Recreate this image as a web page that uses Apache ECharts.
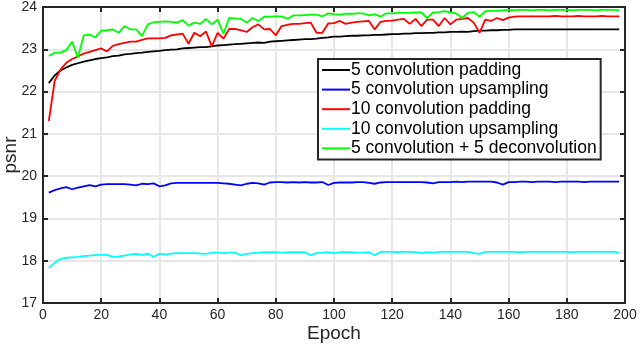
<!DOCTYPE html>
<html>
<head>
<meta charset="utf-8">
<script src="https://cdn.jsdelivr.net/npm/echarts@6/dist/echarts.min.js"></script>
<style>
  html, body { margin: 0; padding: 0; background: #fff; }
  #chart { width: 640px; height: 349px; }
</style>
</head>
<body>
<div id="chart"></div>
<script>
const epochs = [2, 4, 6, 8, 10, 12, 14, 16, 18, 20, 22, 24, 26, 28, 30, 32, 34, 36, 38, 40,
  42, 44, 46, 48, 50, 52, 54, 56, 58, 60, 62, 64, 66, 68, 70, 72, 74, 76, 78, 80,
  82, 84, 86, 88, 90, 92, 94, 96, 98, 100, 102, 104, 106, 108, 110, 112, 114, 116, 118, 120,
  122, 124, 126, 128, 130, 132, 134, 136, 138, 140, 142, 144, 146, 148, 150, 152, 154, 156, 158, 160,
  162, 164, 166, 168, 170, 172, 174, 176, 178, 180, 182, 184, 186, 188, 190, 192, 194, 196, 198]

const conv5Padding = [22.20, 22.38, 22.50, 22.57, 22.63, 22.67, 22.71, 22.74, 22.77, 22.79,
  22.81, 22.84, 22.85, 22.88, 22.89, 22.91, 22.92, 22.94, 22.95, 22.96,
  22.98, 22.99, 23.00, 23.02, 23.03, 23.04, 23.05, 23.05, 23.07, 23.09,
  23.10, 23.11, 23.12, 23.13, 23.14, 23.15, 23.16, 23.15, 23.18, 23.19,
  23.20, 23.21, 23.22, 23.23, 23.24, 23.24, 23.25, 23.27, 23.28, 23.30,
  23.30, 23.31, 23.32, 23.32, 23.33, 23.33, 23.34, 23.34, 23.35, 23.36,
  23.36, 23.37, 23.37, 23.38, 23.38, 23.39, 23.39, 23.40, 23.40, 23.41,
  23.41, 23.42, 23.41, 23.43, 23.44, 23.44, 23.45, 23.45, 23.46, 23.46,
  23.47, 23.47, 23.47, 23.47, 23.47, 23.47, 23.47, 23.47, 23.47, 23.47,
  23.47, 23.47, 23.47, 23.47, 23.47, 23.47, 23.47, 23.47, 23.47]

const conv5Upsampling = [19.61, 19.67, 19.71, 19.74, 19.69, 19.73, 19.76, 19.79, 19.76, 19.80,
  19.81, 19.81, 19.81, 19.81, 19.80, 19.78, 19.82, 19.81, 19.83, 19.76,
  19.78, 19.83, 19.84, 19.84, 19.84, 19.84, 19.84, 19.84, 19.84, 19.84,
  19.83, 19.82, 19.80, 19.78, 19.82, 19.84, 19.83, 19.80, 19.85, 19.86,
  19.86, 19.85, 19.86, 19.85, 19.86, 19.85, 19.85, 19.86, 19.79, 19.84,
  19.85, 19.85, 19.85, 19.86, 19.86, 19.84, 19.82, 19.85, 19.86, 19.86,
  19.86, 19.86, 19.86, 19.86, 19.86, 19.85, 19.83, 19.86, 19.86, 19.86,
  19.87, 19.86, 19.87, 19.87, 19.87, 19.87, 19.87, 19.85, 19.80, 19.86,
  19.86, 19.87, 19.87, 19.86, 19.87, 19.87, 19.87, 19.86, 19.87, 19.87,
  19.87, 19.87, 19.86, 19.87, 19.87, 19.87, 19.87, 19.87, 19.87]

const conv10Padding = [21.30, 22.25, 22.52, 22.68, 22.77, 22.83, 22.90, 22.94, 22.98, 23.02,
  22.95, 23.08, 23.12, 23.15, 23.18, 23.18, 23.22, 23.26, 23.26, 23.26,
  23.27, 23.33, 23.35, 23.37, 23.13, 23.39, 23.31, 23.42, 23.07, 23.39,
  23.25, 23.48, 23.48, 23.45, 23.41, 23.52, 23.59, 23.47, 23.48, 23.33,
  23.55, 23.58, 23.60, 23.60, 23.62, 23.63, 23.39, 23.39, 23.61, 23.62,
  23.67, 23.60, 23.63, 23.65, 23.66, 23.67, 23.47, 23.65, 23.67, 23.68,
  23.70, 23.72, 23.60, 23.72, 23.55, 23.70, 23.70, 23.55, 23.74, 23.59,
  23.70, 23.72, 23.74, 23.63, 23.39, 23.70, 23.67, 23.74, 23.69, 23.75,
  23.77, 23.78, 23.78, 23.78, 23.78, 23.78, 23.78, 23.79, 23.78, 23.78,
  23.78, 23.79, 23.78, 23.78, 23.78, 23.79, 23.78, 23.78, 23.78]

const conv10Upsampling = [17.83, 17.95, 18.04, 18.07, 18.08, 18.09, 18.11, 18.12, 18.13, 18.14,
  18.14, 18.09, 18.10, 18.12, 18.15, 18.16, 18.14, 18.17, 18.09, 18.17,
  18.15, 18.17, 18.18, 18.18, 18.18, 18.18, 18.17, 18.16, 18.19, 18.19,
  18.18, 18.19, 18.19, 18.13, 18.16, 18.18, 18.19, 18.20, 18.20, 18.20,
  18.19, 18.20, 18.20, 18.20, 18.20, 18.13, 18.18, 18.19, 18.20, 18.18,
  18.20, 18.20, 18.20, 18.19, 18.19, 18.20, 18.13, 18.21, 18.21, 18.21,
  18.20, 18.21, 18.21, 18.20, 18.18, 18.20, 18.19, 18.21, 18.21, 18.21,
  18.21, 18.21, 18.21, 18.18, 18.16, 18.21, 18.21, 18.21, 18.21, 18.21,
  18.21, 18.20, 18.21, 18.21, 18.21, 18.21, 18.21, 18.21, 18.21, 18.21,
  18.20, 18.21, 18.21, 18.21, 18.21, 18.21, 18.21, 18.21, 18.19]

const conv5Deconv5 = [22.84, 22.92, 22.92, 22.98, 23.18, 22.80, 23.33, 23.35, 23.28, 23.44,
  23.45, 23.47, 23.39, 23.55, 23.47, 23.47, 23.31, 23.59, 23.64, 23.65,
  23.66, 23.65, 23.63, 23.69, 23.56, 23.63, 23.60, 23.72, 23.59, 23.70,
  23.37, 23.74, 23.73, 23.72, 23.63, 23.74, 23.67, 23.77, 23.77, 23.78,
  23.78, 23.72, 23.80, 23.80, 23.81, 23.82, 23.82, 23.78, 23.85, 23.83,
  23.82, 23.84, 23.84, 23.85, 23.85, 23.80, 23.83, 23.77, 23.85, 23.85,
  23.86, 23.86, 23.86, 23.87, 23.87, 23.74, 23.87, 23.88, 23.90, 23.87,
  23.85, 23.74, 23.86, 23.88, 23.77, 23.90, 23.91, 23.91, 23.92, 23.93,
  23.92, 23.93, 23.93, 23.92, 23.93, 23.93, 23.92, 23.93, 23.93, 23.93,
  23.92, 23.93, 23.93, 23.93, 23.92, 23.93, 23.93, 23.93, 23.92]

const seriesNames = ['5 convolution padding', '5 convolution upsampling', '10 convolution padding',
  '10 convolution upsampling', '5 convolution + 5 deconvolution']
const seriesColors = ['#000000', '#0000ff', '#ff0000', '#00ffff', '#00ff00']
const seriesData = [conv5Padding, conv5Upsampling, conv10Padding, conv10Upsampling, conv5Deconv5]

const chart = echarts.init(document.getElementById('chart'))

const axisColor = '#262626'
const font = 'Liberation Sans, Arial, sans-serif'

chart.setOption({
  animation: false,
  grid: { left: 43, right: 15, top: 7, bottom: 46, containLabel: false, outerBoundsMode: 'none' },
  legend: {
    orient: 'vertical',
    left: 318,
    top: 59,
    padding: [2, 4, 2, 4],
    itemGap: 1.6,
    itemWidth: 28,
    itemHeight: 2,
    icon: 'rect',
    borderColor: '#262626',
    borderWidth: 2,
    backgroundColor: '#fff',
    data: seriesNames,
    textStyle: { color: '#000', fontSize: 17.5, fontFamily: font, padding: [0, 0, 0, -4], lineHeight: 17.5 }
  },
  xAxis: [{
    type: 'value', min: 0, max: 200, interval: 20,
    name: 'Epoch', nameLocation: 'middle', nameGap: 21, nameMoveOverlap: false,
    nameTextStyle: { fontSize: 19, color: axisColor, fontFamily: font },
    axisLine: { show: true, onZero: false, lineStyle: { color: axisColor, width: 2 } },
    axisTick: { show: true, inside: true, length: 5, lineStyle: { color: axisColor, width: 2 } },
    axisLabel: { fontSize: 14, color: axisColor, fontFamily: font, margin: 5 },
    splitLine: { show: true, lineStyle: { color: '#e6e6e6', width: 2 } }
  }, {
    type: 'value', min: 0, max: 200, interval: 20, position: 'top',
    axisLine: { show: true, onZero: false, lineStyle: { color: axisColor, width: 2 } },
    axisTick: { show: true, inside: true, length: 5, lineStyle: { color: axisColor, width: 2 } },
    axisLabel: { show: false },
    splitLine: { show: false }
  }],
  yAxis: [{
    type: 'value', min: 17, max: 24, interval: 1,
    name: 'psnr', nameLocation: 'middle', nameGap: 23, nameMoveOverlap: false,
    nameTextStyle: { fontSize: 19, color: axisColor, fontFamily: font },
    axisLine: { show: true, onZero: false, lineStyle: { color: axisColor, width: 2 } },
    axisTick: { show: true, inside: true, length: 5, lineStyle: { color: axisColor, width: 2 } },
    axisLabel: { fontSize: 14, color: axisColor, fontFamily: font, margin: 6 },
    splitLine: { show: true, lineStyle: { color: '#e6e6e6', width: 2 } }
  }, {
    type: 'value', min: 17, max: 24, interval: 1, position: 'right',
    axisLine: { show: true, onZero: false, lineStyle: { color: axisColor, width: 2 } },
    axisTick: { show: true, inside: true, length: 5, lineStyle: { color: axisColor, width: 2 } },
    axisLabel: { show: false },
    splitLine: { show: false }
  }],
  series: seriesNames.map((name, i) => ({
    name: name,
    type: 'line',
    showSymbol: false,
    color: seriesColors[i],
    lineStyle: { width: 1.8, color: seriesColors[i] },
    data: epochs.map((e, j) => [e, seriesData[i][j]])
  }))
})
</script>
</body>
</html>
